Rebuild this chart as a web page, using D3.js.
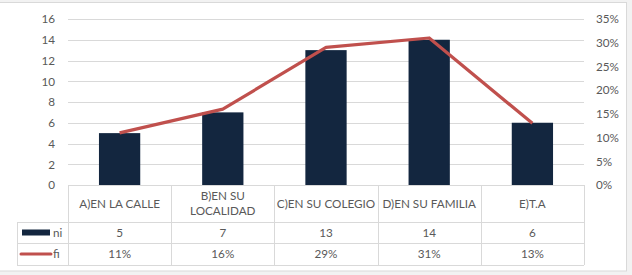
<!DOCTYPE html>
<html>
<head>
<meta charset="utf-8">
<script src="https://cdn.jsdelivr.net/npm/d3@7"></script>
<style>
  html, body { margin: 0; padding: 0; background: #f2f2f2; }
  svg { display: block; }
  text { font-family: Lato, "Open Sans", sans-serif; font-size: 11.7px; fill: #595959; }
</style>
</head>
<body>
<div id="chart"></div>
<script>
// data
const categories = ["A)EN LA CALLE", "B)EN SU\nLOCALIDAD", "C)EN SU COLEGIO", "D)EN SU FAMILIA", "E)T.A"];
const ni = [5, 7, 13, 14, 6];
const fi = [0.11, 0.16, 0.29, 0.31, 0.13];
const leftTicks = [0, 2, 4, 6, 8, 10, 12, 14, 16];
const rightTicks = [0, 0.05, 0.10, 0.15, 0.20, 0.25, 0.30, 0.35];

const W = 632, H = 275;
const plot = {left: 68, right: 584, top: 19, bottom: 185};
const rows = {cat: 222, ni: 243, fi: 265};
const legendLeft = 17;
const gridColor = "#d9d9d9";
const barColor = "#13263f";
const lineColor = "#c0504d";

const svg = d3.select("#chart").append("svg")
    .attr("width", W)
    .attr("height", H);

// chart background + frame
svg.append("rect")
    .attr("x", -1).attr("y", 2.5)
    .attr("width", 627.5).attr("height", 268.5)
    .attr("fill", "#fff")
    .attr("stroke", "#d9d9d9");

const x = d3.scaleBand()
    .domain(categories)
    .range([plot.left, plot.right])
    .padding(0);
const yL = d3.scaleLinear().domain([0, 16]).range([plot.bottom, plot.top]);
const yR = d3.scaleLinear().domain([0, 0.35]).range([plot.bottom, plot.top]);

// gridlines
svg.append("g").selectAll("line")
    .data(leftTicks)
    .join("line")
    .attr("x1", plot.left).attr("x2", plot.right)
    .attr("y1", d => Math.round(yL(d)) + 0.5)
    .attr("y2", d => Math.round(yL(d)) + 0.5)
    .attr("stroke", gridColor);

// left axis
const leftAxis = svg.append("g")
    .attr("transform", "translate(" + (plot.left - 13) + ",0)")
    .call(d3.axisLeft(yL).tickValues(leftTicks).tickSize(0).tickPadding(0));
leftAxis.select(".domain").remove();
leftAxis.selectAll("text").style("font-size", "11.7px").attr("fill", "#595959");

// right axis
const rightAxis = svg.append("g")
    .attr("transform", "translate(" + (plot.right + 12) + ",0)")
    .call(d3.axisRight(yR).tickValues(rightTicks).tickSize(0).tickPadding(0)
        .tickFormat(d3.format(".0%")));
rightAxis.select(".domain").remove();
rightAxis.selectAll("text").style("font-size", "11.7px").attr("fill", "#595959");

// bars
const barW = x.bandwidth() * 0.4;
svg.append("g").selectAll("rect")
    .data(categories)
    .join("rect")
    .attr("x", (d) => x(d) + x.bandwidth() / 2 - barW / 2)
    .attr("width", barW)
    .attr("y", (d, i) => yL(ni[i]))
    .attr("height", (d, i) => yL(0) - yL(ni[i]))
    .attr("fill", barColor);

// line
const line = d3.line()
    .x((d, i) => x(categories[i]) + x.bandwidth() / 2)
    .y(d => yR(d));
svg.append("path")
    .datum(fi)
    .attr("d", line)
    .attr("fill", "none")
    .attr("stroke", lineColor)
    .attr("stroke-width", 3.2)
    .attr("stroke-linejoin", "round");

// data table
const table = svg.append("g").attr("stroke", gridColor).attr("shape-rendering", "crispEdges");
// horizontal lines
table.append("line").attr("x1", plot.left).attr("x2", plot.right).attr("y1", plot.bottom + 0.5).attr("y2", plot.bottom + 0.5);
[rows.cat, rows.ni, rows.fi].forEach(yy => {
    table.append("line").attr("x1", legendLeft).attr("x2", plot.right).attr("y1", yy + 0.5).attr("y2", yy + 0.5);
});
// vertical lines
table.append("line").attr("x1", legendLeft + 0.5).attr("x2", legendLeft + 0.5).attr("y1", rows.cat).attr("y2", rows.fi);
categories.forEach(c => {
    table.append("line").attr("x1", Math.round(x(c)) + 0.5).attr("x2", Math.round(x(c)) + 0.5)
        .attr("y1", plot.bottom).attr("y2", rows.fi);
});
table.append("line").attr("x1", plot.right + 0.5).attr("x2", plot.right + 0.5).attr("y1", plot.bottom).attr("y2", rows.fi);

// category labels
const catG = svg.append("g");
categories.forEach(c => {
    const lines = c.split("\n");
    const cx = x(c) + x.bandwidth() / 2;
    const cy = (plot.bottom + rows.cat) / 2;
    const lh = 15;
    lines.forEach((t, k) => {
        catG.append("text")
            .attr("x", cx)
            .attr("y", cy + (k - (lines.length - 1) / 2) * lh)
            .attr("dy", "0.35em")
            .attr("text-anchor", "middle")
            .text(t);
    });
});

// value rows
const rowData = [
    {key: "ni", vals: ni.map(String), y0: rows.cat, y1: rows.ni},
    {key: "fi", vals: fi.map(d3.format(".0%")), y0: rows.ni, y1: rows.fi}
];
rowData.forEach(r => {
    const cy = (r.y0 + r.y1) / 2;
    r.vals.forEach((v, i) => {
        svg.append("text")
            .attr("x", x(categories[i]) + x.bandwidth() / 2)
            .attr("y", cy).attr("dy", "0.35em")
            .attr("text-anchor", "middle")
            .text(v);
    });
    svg.append("text")
        .attr("x", 53).attr("y", cy).attr("dy", "0.35em")
        .text(r.key);
});

// legend keys
svg.append("rect")
    .attr("x", 22).attr("y", (rows.cat + rows.ni) / 2 - 3)
    .attr("width", 28).attr("height", 6)
    .attr("fill", barColor);
svg.append("line")
    .attr("x1", 21).attr("x2", 51)
    .attr("y1", (rows.ni + rows.fi) / 2).attr("y2", (rows.ni + rows.fi) / 2)
    .attr("stroke", lineColor).attr("stroke-width", 3)
    .attr("stroke-linecap", "round");
</script>
</body>
</html>
